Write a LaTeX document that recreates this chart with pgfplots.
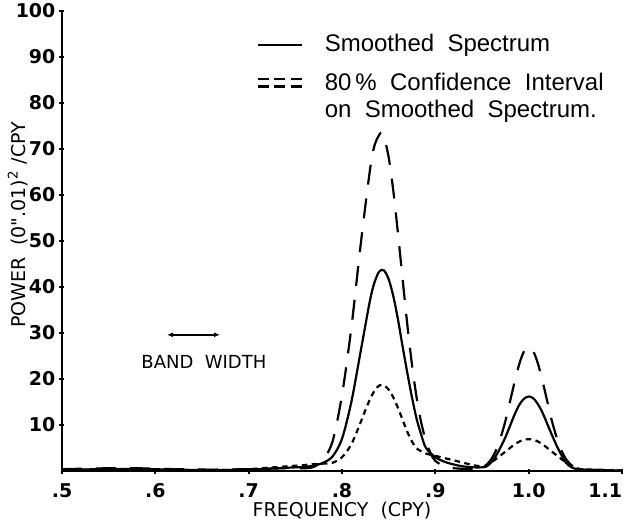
\documentclass[border=0pt]{standalone}
\usepackage{fontspec}
\setmainfont{Liberation Sans}
\newfontfamily\lab{DejaVu Sans}
\usepackage{pgfplots}
\pgfplotsset{compat=1.18}
\usetikzlibrary{arrows.meta}

\begin{document}
\begin{tikzpicture}
\begin{axis}[
  scale only axis,
  width=280pt, height=230pt,
  xmin=0.5, xmax=1.1, ymin=0, ymax=100,
  axis lines=left,
  axis line style={-, line width=1.1pt},
  xtick={0.5,0.6,0.7,0.8,0.9,1.0,1.1},
  xticklabels={.5,.6,.7,.8,.9,1.0,\llap{1.1}\hspace{8pt}},
  ytick={10,20,30,40,50,60,70,80,90,100},
  yticklabels={10,20,30,40,50,60,70,80,90,100},
  tick align=center,
  major tick length=2.5pt,
  tick style={line width=1pt, black},
  ticklabel style={font=\lab\bfseries\fontsize{9.5}{9.5}\selectfont},
  xticklabel style={yshift=-1.5pt},
  yticklabel style={xshift=1.5pt},
  xlabel={FREQUENCY\ \ (CPY)},
  ylabel={POWER\ \ (0".01)\textsuperscript{2} /CPY},
  label style={font=\lab\fontsize{9.5}{9.5}\selectfont},
  xlabel style={at={(axis description cs:0.5,-0.087)}, anchor=center},
  ylabel style={at={(axis description cs:-0.079,0.535)}, anchor=center},
  clip=false,
]
\coordinate (O) at (rel axis cs:0,0);

% smoothed spectrum
\addplot[black, line width=1.1pt, smooth, tension=0.5] coordinates {
(0.5,0.3) (0.55,0.4) (0.58,0.45) (0.62,0.3) (0.66,0.2) (0.7,0.3) (0.72,0.5)
(0.74,0.7) (0.76,0.9) (0.77,1.2) (0.78,1.8) (0.79,3.2) (0.80,7.0) (0.81,15.0)
(0.82,26.0) (0.83,37.1) (0.835,41.1) (0.84,43.4) (0.845,43.6) (0.85,41.7)
(0.855,38.0) (0.86,32.9) (0.865,27.0) (0.87,21.3) (0.875,16.0) (0.88,11.3)
(0.885,7.8) (0.89,5.0) (0.90,3.0) (0.91,2.0) (0.92,1.4) (0.93,1.0) (0.94,0.8)
(0.95,0.8) (0.955,1.0) (0.96,1.9) (0.965,3.3) (0.97,5.2) (0.975,7.3) (0.98,9.8)
(0.985,12.3) (0.99,14.4) (0.995,15.7) (1.0,16.2) (1.005,15.8) (1.01,14.5)
(1.015,12.6) (1.02,10.2) (1.025,7.8) (1.03,5.5) (1.035,3.5) (1.04,1.8)
(1.045,0.9) (1.05,0.5) (1.06,0.3) (1.08,0.2) (1.1,0.1)
};

% upper confidence limit
\addplot[black, line width=1.1pt, smooth, tension=0.5, dash pattern=on 10pt off 7pt] coordinates {
(0.5,0.4) (0.55,0.6) (0.58,0.6) (0.62,0.4) (0.66,0.3) (0.7,0.4) (0.72,0.5)
(0.74,0.6) (0.76,0.6) (0.77,0.9) (0.78,2.5) (0.79,6.5) (0.80,16.5) (0.81,31.1)
(0.82,49.2) (0.83,65.5) (0.835,70.9) (0.8415,73.5) (0.845,72.6) (0.85,68.2)
(0.855,60.9) (0.86,51.6) (0.865,41.6) (0.87,31.8) (0.875,23.1) (0.88,15.9)
(0.885,10.4) (0.89,6.5) (0.895,3.8) (0.90,2.2) (0.91,1.0) (0.92,0.6) (0.94,0.4)
(0.95,0.5) (0.955,1.4) (0.96,2.6) (0.965,4.5) (0.97,7.3) (0.975,10.8) (0.98,15.1)
(0.985,19.4) (0.99,23.3) (0.995,26.0) (1.0,27.0) (1.005,26.0) (1.01,23.3)
(1.015,19.4) (1.02,15.1) (1.025,10.8) (1.03,7.3) (1.035,4.5) (1.04,2.6)
(1.045,1.4) (1.05,0.6) (1.06,0.3) (1.08,0.2) (1.1,0.1)
};

% lower confidence limit
\addplot[black, line width=1.1pt, smooth, tension=0.5, dash pattern=on 2.8pt off 2.2pt] coordinates {
(0.5,0.2) (0.55,0.3) (0.58,0.3) (0.62,0.2) (0.66,0.15) (0.7,0.4) (0.72,0.7)
(0.74,1.0) (0.76,1.3) (0.77,1.5) (0.78,1.6) (0.79,1.8) (0.80,3.0) (0.81,5.8)
(0.82,10.6) (0.825,13.2) (0.83,15.6) (0.835,17.5) (0.84,18.6) (0.845,18.6)
(0.85,17.7) (0.855,16.0) (0.86,13.7) (0.865,11.1) (0.87,8.5) (0.875,6.4)
(0.88,4.9) (0.89,3.8) (0.90,3.3) (0.91,2.8) (0.92,2.3) (0.93,1.8) (0.94,1.3)
(0.95,1.0) (0.955,1.3) (0.96,1.9) (0.965,2.6) (0.97,3.4) (0.975,4.2) (0.98,5.0)
(0.985,5.8) (0.99,6.4) (0.995,6.8) (1.0,6.9) (1.005,6.8) (1.01,6.4) (1.015,5.8)
(1.02,5.0) (1.025,4.2) (1.03,3.4) (1.035,2.6) (1.04,1.9) (1.045,1.4) (1.05,0.7)
(1.06,0.3) (1.08,0.2) (1.1,0.1)
};

% legend
\draw[line width=1.1pt] (axis cs:0.710,92.6) -- (axis cs:0.757,92.6);
\node[anchor=west, font=\fontsize{12}{12}\selectfont] at (axis cs:0.774,92.6) {Smoothed\ \ Spectrum};
\draw[line width=1.1pt, dash pattern=on 5.5pt off 2.75pt] (axis cs:0.710,85.3) -- (axis cs:0.757,85.3);
\draw[line width=1.1pt, dash pattern=on 5.5pt off 2.75pt] (axis cs:0.710,83.6) -- (axis cs:0.757,83.6);
\node[anchor=west, font=\fontsize{12}{12}\selectfont] at (axis cs:0.774,84.6) {80\,\%\ \ Confidence\ \ Interval};
\node[anchor=west, font=\fontsize{12}{12}\selectfont] at (axis cs:0.774,78.2) {on\ \ Smoothed\ \ Spectrum.};

% band width
\draw[line width=1pt, {Latex[length=3pt,width=2.5pt]}-{Latex[length=3pt,width=2.5pt]}] (axis cs:0.6125,29.6) -- (axis cs:0.6693,29.6);
\node[font=\lab\fontsize{9}{9}\selectfont] at (axis cs:0.652,23.8) {BAND\ \ WIDTH};
\end{axis}
\pgfresetboundingbox
\path (O) ++(-31pt,-24.5pt) rectangle ++(316pt,260pt);
\end{tikzpicture}
\end{document}
